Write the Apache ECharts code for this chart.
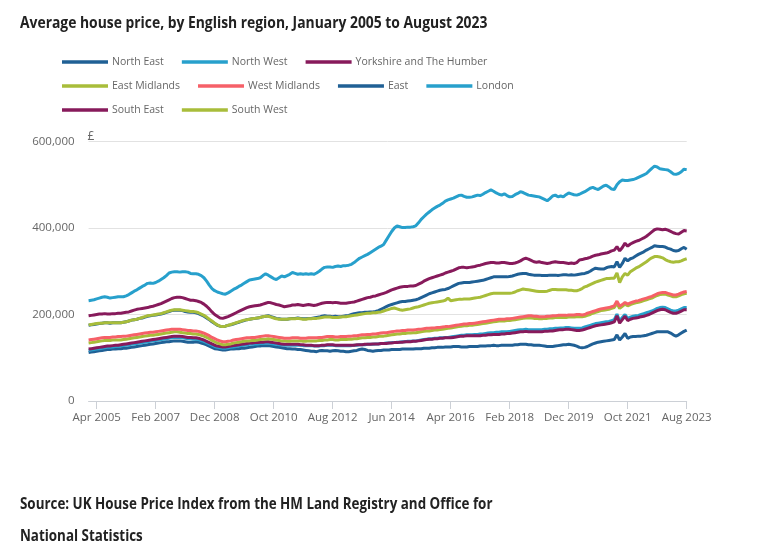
<!DOCTYPE html>
<html>
<head>
<meta charset="utf-8">
<script src="https://cdn.jsdelivr.net/npm/echarts@6/dist/echarts.min.js"></script>
<style>
html,body{margin:0;padding:0;background:#fff;}
#chart{width:763px;height:546px;}
</style>
</head>
<body>
<div id="chart"></div>
<script>
// Values in thousands of pounds, monthly Jan 2005 - Aug 2023
const monthNames = ['Jan','Feb','Mar','Apr','May','Jun','Jul','Aug','Sep','Oct','Nov','Dec'];
const tickLabels = ['Apr 2005','Feb 2007','Dec 2008','Oct 2010','Aug 2012','Jun 2014','Apr 2016','Feb 2018','Dec 2019','Oct 2021','Aug 2023'];
const yTicks = [0, 200, 400, 600];

const northEast = [
112,113,114,115,116,117,118,119,119,120,120,121,
121,122,122,123,124,125,126,127,128,129,130,131,
132,133,134,135,136,137,137,138,139,139,139,138,
137,136,136,136,137,136,134,132,130,127,124,121,
120,119,118,118,119,120,120,121,121,122,122,123,
124,125,126,127,127,128,128,128,127,126,125,124,
123,122,121,121,120,120,119,119,118,117,116,115,
115,114,116,117,116,116,115,116,117,116,115,115,
114,114,115,116,117,119,120,119,117,116,115,116,
117,117,118,118,118,119,119,119,119,120,120,120,
120,120,121,121,121,122,122,122,123,123,124,124,
124,125,125,125,126,126,126,125,125,125,126,126,
126,126,127,127,127,128,128,129,128,128,129,129,
129,129,129,130,130,131,131,131,130,130,129,129,
129,128,127,126,126,126,127,128,129,130,130,131,
130,129,127,124,123,124,126,129,132,134,136,137,
138,139,140,141,142,153,141,148,156,145,148,149,
149,150,150,151,152,154,156,158,160,160,160,160,
160,157,153,150,153,157,161,164];

const northWest = [
117,118,119,120,121,122,123,124,124,125,126,126,
127,128,129,130,131,132,133,134,135,136,137,138,
139,140,141,142,143,144,145,146,147,147,147,146,
145,144,144,143,143,142,140,138,135,132,129,126,
124,123,122,122,123,124,125,126,127,128,129,130,
131,131,132,132,133,133,134,134,133,132,131,130,
130,129,129,129,129,129,129,129,128,128,128,128,
127,127,127,128,128,129,129,129,128,128,128,128,
128,128,128,129,129,130,130,130,131,131,131,132,
132,133,133,134,134,135,135,136,136,137,137,138,
138,139,139,140,141,142,143,144,144,145,145,146,
146,147,147,148,149,150,151,152,152,153,153,153,
154,154,155,155,156,157,158,158,159,159,160,160,
160,161,162,163,164,165,165,166,165,165,165,165,
165,165,166,166,167,167,168,168,169,169,170,170,
169,168,168,168,169,171,173,175,177,179,180,181,
182,183,184,186,188,201,185,193,200,191,194,196,
197,198,200,202,204,206,208,211,214,216,217,216,
213,210,208,208,210,213,216,216];

const yorkshire = [
120,121,122,123,124,125,126,127,127,128,129,129,
130,131,132,133,134,135,136,137,138,139,140,141,
142,143,144,145,146,147,148,149,150,150,150,149,
148,147,147,146,146,145,143,141,138,135,132,129,
127,126,125,125,126,127,128,129,130,131,132,133,
134,134,135,135,136,136,137,137,136,135,134,133,
132,131,131,131,131,131,131,130,130,129,129,129,
128,128,128,129,129,130,130,130,129,129,129,129,
129,129,129,129,130,130,130,131,131,131,132,132,
132,133,133,133,134,134,135,135,136,136,137,137,
137,138,138,139,140,141,142,143,143,144,144,145,
145,146,146,146,147,148,149,150,150,151,151,151,
151,151,151,152,152,153,153,154,154,154,155,155,
156,156,157,158,159,160,160,161,160,160,160,160,
160,160,161,161,162,162,163,164,165,165,166,166,
165,164,163,163,164,166,168,170,172,174,175,176,
177,178,179,181,183,197,180,188,196,186,189,191,
192,193,195,196,198,200,203,206,209,211,212,211,
208,205,203,203,205,208,211,211];

const eastMidlands = [
134,135,136,137,138,139,140,140,140,141,141,141,
141,142,143,144,145,146,147,148,149,150,151,152,
152,153,154,155,156,157,158,159,160,160,159,158,
157,156,156,155,155,154,152,150,147,144,140,137,
134,132,130,130,131,132,134,135,136,137,138,139,
139,140,140,141,142,143,143,144,143,142,141,140,
139,139,138,138,139,139,139,139,138,138,139,139,
139,139,140,140,141,141,142,142,141,141,142,142,
142,143,143,144,144,145,146,146,147,147,148,148,
149,150,150,151,152,153,154,155,155,156,156,157,
157,158,158,159,160,161,162,162,163,164,164,165,
166,167,168,169,170,171,172,173,174,174,175,175,
176,177,178,179,180,181,182,183,184,185,185,185,
186,186,187,188,189,190,191,192,192,192,191,191,
190,190,191,191,192,192,193,193,193,193,193,194,
194,194,195,195,195,196,198,200,203,205,207,209,
210,211,212,214,216,226,214,219,224,220,223,225,
227,228,230,232,234,236,238,241,244,246,247,247,
245,243,241,241,243,246,248,249];

const westMidlands = [
141,142,143,144,145,146,147,147,147,148,148,149,
149,150,150,151,152,153,154,155,156,157,158,159,
159,160,161,162,163,164,165,166,166,166,166,165,
164,163,163,162,162,161,159,157,154,151,147,144,
141,139,137,137,138,139,141,142,143,144,145,146,
146,147,147,148,149,150,151,151,150,149,148,147,
146,145,145,145,146,146,146,145,145,145,146,146,
146,146,147,147,148,149,149,149,148,148,149,149,
149,150,150,151,151,152,153,153,154,154,155,155,
156,157,158,158,159,160,161,162,162,163,163,164,
164,164,165,166,166,167,168,168,169,169,170,170,
171,172,172,173,174,175,176,177,178,178,179,179,
180,181,182,183,184,185,186,187,188,189,189,189,
190,190,191,192,193,194,195,196,197,197,196,196,
195,195,195,196,196,197,197,198,198,198,198,199,
199,199,200,200,199,200,203,205,207,209,211,213,
214,215,216,218,220,231,219,223,228,224,227,229,
231,232,234,236,238,240,242,245,248,250,251,251,
249,247,245,245,247,250,252,253];

const east = [
175,176,177,178,179,180,181,181,180,181,181,181,
181,182,183,185,187,188,189,191,192,194,196,197,
198,199,200,201,203,205,207,209,210,210,210,209,
207,206,205,205,204,202,199,196,192,188,183,179,
175,173,172,173,175,176,178,180,182,184,186,188,
189,190,191,192,193,195,196,197,195,193,191,190,
189,189,189,190,191,191,192,191,190,190,191,191,
192,193,194,196,197,196,196,195,196,195,195,196,
197,198,200,202,203,204,204,205,205,206,206,207,
209,212,215,218,221,223,225,227,229,230,230,231,
232,233,234,236,239,242,245,248,250,252,254,256,
257,258,260,263,266,269,272,273,274,274,274,275,
276,277,278,279,281,283,285,287,287,287,287,287,
287,288,289,291,293,294,295,295,293,292,291,291,
291,290,290,290,291,291,291,290,291,292,292,291,
292,291,292,293,294,295,297,300,304,307,306,305,
305,308,310,311,310,322,309,318,330,324,329,331,
335,339,342,345,349,352,355,359,358,357,357,356,
353,351,348,347,348,352,355,351];

const london = [
232,233,234,236,238,240,241,240,238,239,240,241,
241,241,243,246,250,254,257,261,265,268,272,273,
272,274,277,281,285,290,296,298,299,299,298,299,
299,298,295,294,294,293,290,285,277,268,260,255,
252,250,248,247,250,254,258,261,265,268,272,276,
280,281,282,283,285,290,294,291,287,283,281,285,
289,287,290,293,297,295,293,294,293,294,293,294,
293,296,300,305,309,310,310,309,311,312,311,313,
313,314,316,320,325,330,333,336,339,343,347,351,
355,358,362,372,382,392,400,405,403,401,401,402,
402,403,405,412,420,426,432,437,442,446,450,453,
457,462,465,467,469,472,475,476,473,471,471,472,
474,476,475,478,482,485,488,485,481,478,476,479,
475,472,473,477,480,484,482,479,476,475,474,473,
472,469,466,463,468,474,476,472,474,472,477,481,
479,477,476,478,481,484,488,492,494,491,489,493,
497,499,495,490,489,500,507,511,510,510,511,512,
514,517,520,523,526,532,538,543,541,537,536,535,
534,530,525,524,526,530,536,535];

const southEast = [
197,198,199,200,201,201,202,201,201,202,202,203,
203,204,205,206,208,210,212,213,214,215,216,218,
219,221,223,225,228,231,234,237,239,240,240,239,
237,235,233,233,232,230,228,224,219,213,206,200,
196,192,191,193,195,198,201,204,207,210,213,216,
218,219,220,221,222,224,226,228,227,225,223,222,
220,218,219,220,222,222,223,222,221,222,223,222,
221,222,224,226,227,228,228,227,228,227,226,226,
226,227,228,229,231,233,235,237,239,240,242,243,
245,247,249,251,254,257,259,261,263,264,265,265,
266,266,267,270,273,277,280,283,285,287,289,291,
293,296,298,300,302,305,308,309,309,308,309,310,
311,313,314,316,318,319,320,320,319,319,320,320,
319,318,318,319,321,324,328,330,328,325,322,321,
322,320,319,318,319,321,322,321,320,320,319,318,
319,318,320,326,327,329,330,332,335,337,338,340,
341,342,344,347,349,357,347,355,365,358,363,366,
369,371,374,377,381,386,391,396,398,397,396,397,
395,392,389,387,386,390,394,393];

const southWest = [
176,177,178,179,180,180,181,181,181,181,181,181,
181,182,183,185,187,188,189,191,193,195,197,198,
199,200,201,202,204,206,208,210,211,211,211,210,
209,208,207,207,206,204,201,198,194,189,185,180,
176,173,172,173,175,177,179,181,183,185,187,188,
189,190,191,192,193,195,196,196,194,192,190,189,
189,189,189,190,190,190,191,190,189,189,190,190,
191,191,192,193,194,194,194,193,193,193,194,195,
195,196,197,198,199,200,201,202,203,203,204,204,
205,206,208,210,212,214,215,213,211,210,211,212,
213,215,217,218,220,222,224,226,227,228,229,230,
231,233,238,232,233,234,235,235,236,236,236,237,
238,239,240,242,244,246,248,249,249,249,249,249,
249,249,250,252,255,257,259,258,257,256,255,254,
253,253,253,254,256,258,258,257,257,257,257,256,
256,255,255,257,260,264,266,269,272,275,277,279,
281,283,283,284,284,296,274,287,295,291,299,303,
307,310,314,318,322,327,331,334,334,333,331,327,
324,322,321,322,322,324,327,329];

const regions = ['North East','North West','Yorkshire and The Humber','East Midlands','West Midlands','East','London','South East','South West'];
const regionValues = [northEast, northWest, yorkshire, eastMidlands, westMidlands, east, london, southEast, southWest];
const regionColors = ['#206095','#27a0cc','#871a5b','#a8bd3a','#f66068','#206095','#27a0cc','#871a5b','#a8bd3a'];

const categories = [];
for (let y = 2005; y <= 2023; y++) {
  for (let mo = 0; mo < 12; mo++) {
    if (y === 2023 && mo > 7) break;
    categories.push(monthNames[mo] + ' ' + y);
  }
}

const FONT = "'Open Sans',sans-serif";
const chart = echarts.init(document.getElementById('chart'), null, {renderer: 'canvas'});

const legendRow = (names, top) => ({
  data: names, left: 62, top: top, itemGap: 18, itemWidth: 46, itemHeight: 3.5, icon: 'rect',
  padding: 0, selectedMode: false,
  textStyle: {fontFamily: FONT, fontSize: 10.5, color: '#666', padding: [0,0,0,-1]}
});

chart.setOption({
  animation: false,
  backgroundColor: '#fff',
  color: regionColors,
  legend: [
    legendRow(regions.slice(0, 3), 56.5),
    legendRow(regions.slice(3, 7), 80.5),
    legendRow(regions.slice(7), 104.5)
  ],
  grid: {left: 88.6, right: 76.3, top: 141.5, bottom: 145, containLabel: false, outerBoundsMode: 'none'},
  xAxis: {
    type: 'category', data: categories, boundaryGap: false,
    axisLine: {lineStyle: {color: '#ccd0d6', width: 1}},
    axisTick: {show: true, length: 8, lineStyle: {color: '#ccd0d6'}, interval: (i, v) => tickLabels.includes(v)},
    axisLabel: {interval: (i, v) => tickLabels.includes(v), margin: 11, fontFamily: FONT, fontSize: 11.5, color: '#666'}
  },
  yAxis: {
    type: 'value', min: yTicks[0], max: yTicks[yTicks.length - 1], interval: 200,
    name: '£', nameLocation: 'end', nameGap: -1,
    nameTextStyle: {fontFamily: FONT, fontSize: 12, color: '#666', align: 'left', padding: [0,0,0,-1]},
    axisLine: {show: false}, axisTick: {show: false},
    splitLine: {lineStyle: {color: '#e2e2e2', width: 1}},
    axisLabel: {margin: 14, fontFamily: FONT, fontSize: 11.5, color: '#666',
      formatter: v => v === 0 ? '0' : (v + ',000')}
  },
  graphic: [{
    type: 'text', x: 20, y: 15.5, scaleX: 0.867,
    style: {text: 'Average house price, by English region, January 2005 to August 2023',
      font: 'bold 16px ' + FONT, fill: '#222'}
  }, {
    type: 'text', x: 20, y: 488, scaleX: 0.836,
    style: {text: 'Source: UK House Price Index from the HM Land Registry and Office for\nNational Statistics',
      font: 'bold 16px ' + FONT, fill: '#222', lineHeight: 32}
  }],
  series: regions.map((name, k) => ({
    name: name, type: 'line', data: regionValues[k], showSymbol: false, symbol: 'none',
    lineStyle: {width: 3, color: regionColors[k]}, itemStyle: {color: regionColors[k]},
    emphasis: {disabled: true}
  }))
});
</script>
</body>
</html>
